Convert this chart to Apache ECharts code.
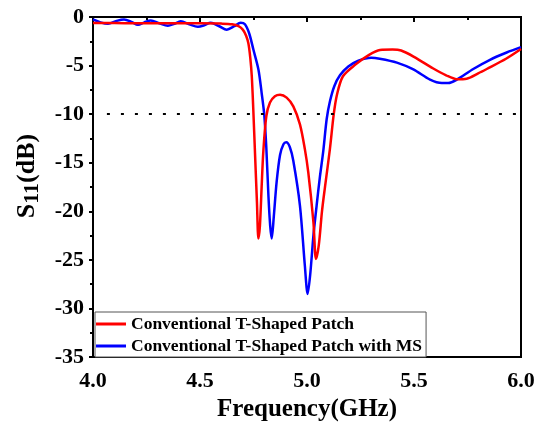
<!DOCTYPE html>
<html>
<head>
<meta charset="utf-8">
<script src="https://cdn.jsdelivr.net/npm/echarts@6/dist/echarts.min.js"></script>
<style>
html, body { margin: 0; padding: 0; background: #fff; }
#chart { width: 546px; height: 427px; }
</style>
</head>
<body>
<div id="chart"></div>
<script>
// Conventional T-Shaped Patch (red)
var freqRed = [4.00, 4.10, 4.20, 4.30, 4.40, 4.50, 4.60, 4.65, 4.68, 4.70, 4.715, 4.726, 4.735, 4.742, 4.749,
    4.757, 4.766, 4.773, 4.780, 4.788, 4.796, 4.81, 4.827, 4.85, 4.874, 4.905, 4.936, 4.967, 4.99,
    5.006, 5.03, 5.042, 5.055, 5.07, 5.084, 5.107, 5.125, 5.14, 5.168, 5.226, 5.29, 5.341, 5.40, 5.44,
    5.50, 5.59, 5.65, 5.70, 5.746, 5.80, 5.84, 5.93, 6.00];
var s11Red = [-0.62, -0.63, -0.64, -0.64, -0.65, -0.65, -0.68, -0.75, -0.95, -1.3, -1.9, -2.7, -4.2, -6.1, -9.5,
    -14.0, -19.0, -22.8, -21.5, -17.5, -13.8, -10.2, -8.8, -8.15, -8.0, -8.3, -9.2, -11.05, -13.6,
    -16.0, -21.1, -24.9, -23.5, -20.0, -17.5, -13.6, -10.0, -8.0, -6.1, -4.9, -3.9, -3.4, -3.35, -3.45,
    -4.1, -5.3, -6.0, -6.4, -6.35, -5.8, -5.35, -4.3, -3.3];

// Conventional T-Shaped Patch with MS (blue)
var freqBlue = [4.00, 4.035, 4.07, 4.11, 4.145, 4.18, 4.21, 4.24, 4.27, 4.31, 4.35, 4.38, 4.41, 4.45, 4.49,
    4.52, 4.55, 4.59, 4.625, 4.66, 4.69, 4.71, 4.73, 4.75, 4.773, 4.788, 4.80, 4.81, 4.82, 4.828, 4.835,
    4.845, 4.858, 4.874, 4.89, 4.903, 4.92, 4.936, 4.967, 4.99, 5.003, 5.015, 5.03, 5.045, 5.06, 5.076,
    5.092, 5.107, 5.128, 5.154, 5.193, 5.24, 5.30, 5.34, 5.42, 5.497, 5.575, 5.63, 5.66, 5.70, 5.777,
    5.855, 5.933, 6.00];
var s11Blue = [-0.25, -0.55, -0.7, -0.4, -0.25, -0.5, -0.8, -0.55, -0.35, -0.65, -0.9, -0.7, -0.45, -0.75, -1.0,
    -0.85, -0.6, -0.95, -1.3, -0.95, -0.6, -0.75, -1.7, -3.4, -5.4, -7.8, -10.0, -13.5, -18.5, -21.5, -22.8,
    -20.5, -17.0, -14.2, -13.1, -12.9, -13.4, -14.8, -19.4, -25.6, -28.5, -26.5, -22.5, -19.4, -16.5, -13.8,
    -10.5, -8.7, -7.1, -6.0, -5.1, -4.5, -4.2, -4.3, -4.7, -5.4, -6.45, -6.8, -6.8, -6.45, -5.35,
    -4.4, -3.65, -3.1];

var seriesNames = ['Conventional T-Shaped Patch', 'Conventional T-Shaped Patch with MS'];
var refLevel = -10;

function pairs(xs, ys) {
    return xs.map(function(x, i) { return [x, ys[i]]; });
}

var font = 'Liberation Serif';
var chart = echarts.init(document.getElementById('chart'));
chart.setOption({
    animation: false,
    backgroundColor: '#fff',
    grid: {
        left: 93, right: 25, top: 17, bottom: 68,
        show: true, borderColor: '#000', borderWidth: 2
    },
    legend: {
        left: 95, top: 312,
        orient: 'vertical',
        itemWidth: 30, itemHeight: 3, itemGap: 4,
        icon: 'rect',
        padding: [3, 4, 2, 1],
        borderColor: '#555', borderWidth: 1,
        backgroundColor: '#fff',
        textStyle: { fontFamily: font, fontWeight: 'bold', fontSize: 17.5, lineHeight: 18, color: '#000' },
        data: seriesNames
    },
    xAxis: {
        type: 'value', min: 4, max: 6, interval: 0.5,
        name: 'Frequency(GHz)', nameLocation: 'middle', nameGap: 39,
        nameTextStyle: { fontFamily: font, fontWeight: 'bold', fontSize: 25, color: '#000' },
        axisLine: { lineStyle: { color: '#000', width: 2 } },
        axisTick: { inside: false, length: 5, lineStyle: { color: '#000', width: 2 } },
        minorTick: { show: true, splitNumber: 2, length: 3, lineStyle: { color: '#000', width: 2 } },
        axisLabel: {
            margin: 13, fontFamily: font, fontWeight: 'bold', fontSize: 22, color: '#000',
            formatter: function(v) { return v.toFixed(1); }
        },
        splitLine: { show: false }
    },
    yAxis: {
        type: 'value', min: -35, max: 0, interval: 5,
        name: '{s0|S}{sub|11}{s|(dB)}', nameLocation: 'middle', nameGap: 50,
        nameTextStyle: {
            rich: {
                s0: { fontFamily: font, fontWeight: 'bold', fontSize: 26, color: '#000', lineHeight: 32, verticalAlign: 'middle', padding: [0, 0, 0, 22] },
                s: { fontFamily: font, fontWeight: 'bold', fontSize: 26, color: '#000', lineHeight: 32, verticalAlign: 'middle' },
                sub: { fontFamily: font, fontWeight: 'bold', fontSize: 22, color: '#000', lineHeight: 32, verticalAlign: 'bottom' }
            }
        },
        axisLine: { lineStyle: { color: '#000', width: 2 } },
        axisTick: { inside: false, length: 4, lineStyle: { color: '#000', width: 2 } },
        minorTick: { show: true, splitNumber: 2, length: 3, lineStyle: { color: '#000', width: 2 } },
        axisLabel: { margin: 9, fontFamily: font, fontWeight: 'bold', fontSize: 22, color: '#000' },
        splitLine: { show: false }
    },
    series: [{
        name: seriesNames[0],
        type: 'line',
        data: pairs(freqRed, s11Red),
        showSymbol: false,
        smooth: 0.3,
        itemStyle: { color: '#ff0000' },
        lineStyle: { color: '#ff0000', width: 2.5 },
        z: 3,
        markLine: {
            silent: true,
            symbol: 'none',
            label: { show: false },
            lineStyle: { color: '#000', width: 2, type: [3, 11] },
            data: [[{ coord: [4.065, refLevel] }, { coord: [6, refLevel] }]]
        }
    }, {
        name: seriesNames[1],
        type: 'line',
        data: pairs(freqBlue, s11Blue),
        showSymbol: false,
        smooth: 0.3,
        itemStyle: { color: '#0000ff' },
        lineStyle: { color: '#0000ff', width: 2.5 },
        z: 2
    }]
});
</script>
</body>
</html>
